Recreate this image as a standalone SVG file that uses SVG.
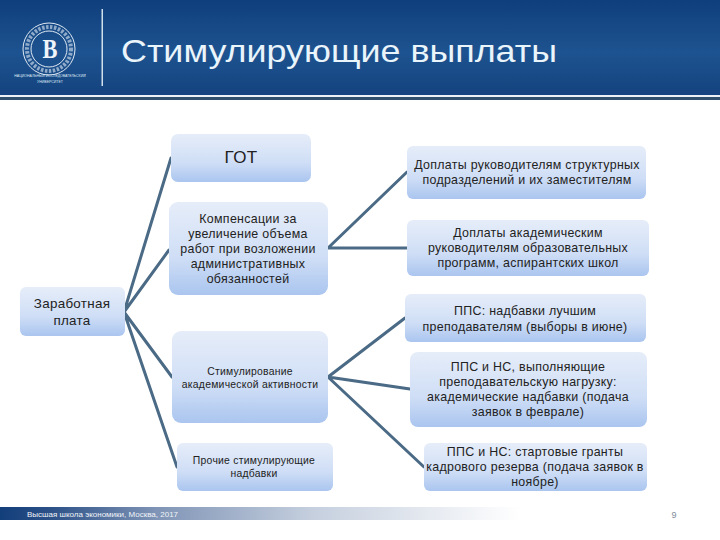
<svg xmlns="http://www.w3.org/2000/svg" width="720" height="540" viewBox="0 0 720 540">
<defs>
<linearGradient id="hdr" x1="0" y1="0" x2="0" y2="1"><stop offset="0" stop-color="#0f3f7c"/><stop offset="0.55" stop-color="#1d5390"/><stop offset="1" stop-color="#14437f"/></linearGradient>
<linearGradient id="box" x1="0" y1="0" x2="0" y2="1"><stop offset="0" stop-color="#e6edf9"/><stop offset="0.6" stop-color="#cfdef6"/><stop offset="1" stop-color="#aac5ef"/></linearGradient>
<linearGradient id="foot" x1="0" y1="0" x2="1" y2="0"><stop offset="0" stop-color="#123e7a"/><stop offset="0.1" stop-color="#2d5288"/><stop offset="0.3" stop-color="#7f94b6"/><stop offset="0.6" stop-color="#c5cfde"/><stop offset="1" stop-color="#ffffff"/></linearGradient>
</defs>
<style>
.b{fill:url(#box)}
.t{font-family:"Liberation Sans",Arial,sans-serif;font-size:12.400px;letter-spacing:0.300px;fill:#222222;text-anchor:middle}
.s{font-size:10.400px;letter-spacing:0.250px}
.c{stroke:#4a6a85;stroke-width:3;fill:none;stroke-linecap:round}
.l{fill:none;stroke:#dfe9f3}
.lt{font-family:"Liberation Sans",sans-serif;fill:#dfe9f3;text-anchor:middle}
</style>
<rect width="720" height="540" fill="#ffffff"/>
<g id="header">
<rect width="720" height="95" fill="url(#hdr)"/>
<rect y="95" width="720" height="2" fill="#eaf2f6"/>
<rect y="97" width="720" height="3" fill="#2f4f6d"/>
<rect x="101.500" y="9" width="1.500" height="77" fill="#cfe0ec"/>
<text x="121" y="62" font-family="'Liberation Sans',sans-serif" font-size="32" fill="#eaf4fb" textLength="436" lengthAdjust="spacingAndGlyphs">Стимулирующие выплаты</text>
</g>
<g id="logo">
<circle cx="49" cy="49" r="26" class="l" stroke-width="1"/>
<circle cx="49" cy="49" r="22" fill="none" stroke="#c3d3e4" stroke-width="4" stroke-dasharray="2.500 1.500" opacity="0.7"/>
<circle cx="49" cy="49" r="18" class="l" stroke-width="1"/>
<text transform="translate(50 58) scale(0.8 1)" font-family="'Liberation Serif',serif" font-size="28" font-weight="bold" fill="#eef4fa" text-anchor="middle">В</text>
<text x="50" y="77" class="lt" font-size="3.500">НАЦИОНАЛЬНЫЙ ИССЛЕДОВАТЕЛЬСКИЙ</text>
<text x="50" y="83" class="lt" font-size="3.500">УНИВЕРСИТЕТ</text>
</g>
<g id="connectors">
<path class="c" d="M124 312L171 158M124 312L169 250M124 312L172 377M124 312L177 467"/>
<path class="c" d="M328 248L407 172M328 248L407 248"/>
<path class="c" d="M328 377L405 318M328 377L410 389M328 377L424 467"/>
</g>
<g id="n1"><rect class="b" x="171" y="134" width="140" height="48" rx="7"/><text class="t" x="241" y="163" style="font-size:17px">ГОТ</text></g>
<g id="n2"><rect class="b" x="169" y="202" width="159" height="93" rx="9"/>
<text class="t" x="248" y="223">Компенсации  за</text><text class="t" x="248" y="238">увеличение объема</text><text class="t" x="248" y="253">работ при возложении</text><text class="t" x="248" y="268">административных</text><text class="t" x="248" y="283">обязанностей</text></g>
<g id="n3"><rect class="b" x="20" y="287" width="105" height="49" rx="6"/>
<text class="t" x="72" y="308" style="font-size:13.400px">Заработная</text><text class="t" x="72" y="325" style="font-size:13.400px">плата</text></g>
<g id="n4"><rect class="b" x="172" y="331" width="156" height="92" rx="9"/>
<text class="t s" x="250" y="375">Стимулирование</text><text class="t s" x="250" y="388">академической активности</text></g>
<g id="n5"><rect class="b" x="177" y="443" width="156" height="48" rx="6"/>
<text class="t s" x="254" y="464">Прочие стимулирующие</text><text class="t s" x="254" y="477">надбавки</text></g>
<g id="n6"><rect class="b" x="407" y="146" width="239" height="53" rx="6"/>
<text class="t" x="527" y="169">Доплаты руководителям структурных</text><text class="t" x="527" y="184">подразделений и их заместителям</text></g>
<g id="n7"><rect class="b" x="407" y="220" width="242" height="56" rx="6"/>
<text class="t" x="528" y="237">Доплаты академическим</text><text class="t" x="528" y="252">руководителям образовательных</text><text class="t" x="528" y="267">программ, аспирантских школ</text></g>
<g id="n8"><rect class="b" x="405" y="294" width="241" height="48" rx="6"/>
<text class="t" x="525" y="315">ППС: надбавки лучшим</text><text class="t" x="525" y="331">преподавателям (выборы в июне)</text></g>
<g id="n9"><rect class="b" x="410" y="352" width="237" height="75" rx="8"/>
<text class="t" x="528" y="371">ППС и НС, выполняющие</text><text class="t" x="528" y="386">преподавательскую нагрузку:</text><text class="t" x="528" y="401">академические надбавки (подача</text><text class="t" x="528" y="416">заявок в феврале)</text></g>
<g id="n10"><rect class="b" x="424" y="443" width="223" height="48" rx="6"/>
<text class="t" x="535" y="456">ППС и НС: стартовые гранты</text><text class="t" x="535" y="471">кадрового резерва (подача заявок в</text><text class="t" x="535" y="486">ноябре)</text></g>
<g id="footer">
<rect y="507" width="520" height="13" fill="url(#foot)"/>
<text x="27" y="517" font-family="'Liberation Sans',sans-serif" font-size="8" fill="#f0f4f8">Высшая школа экономики, Москва, 2017</text>
<text x="674" y="518" font-family="'Liberation Sans',sans-serif" font-size="9" fill="#7f8c99" text-anchor="middle">9</text>
</g>
</svg>
